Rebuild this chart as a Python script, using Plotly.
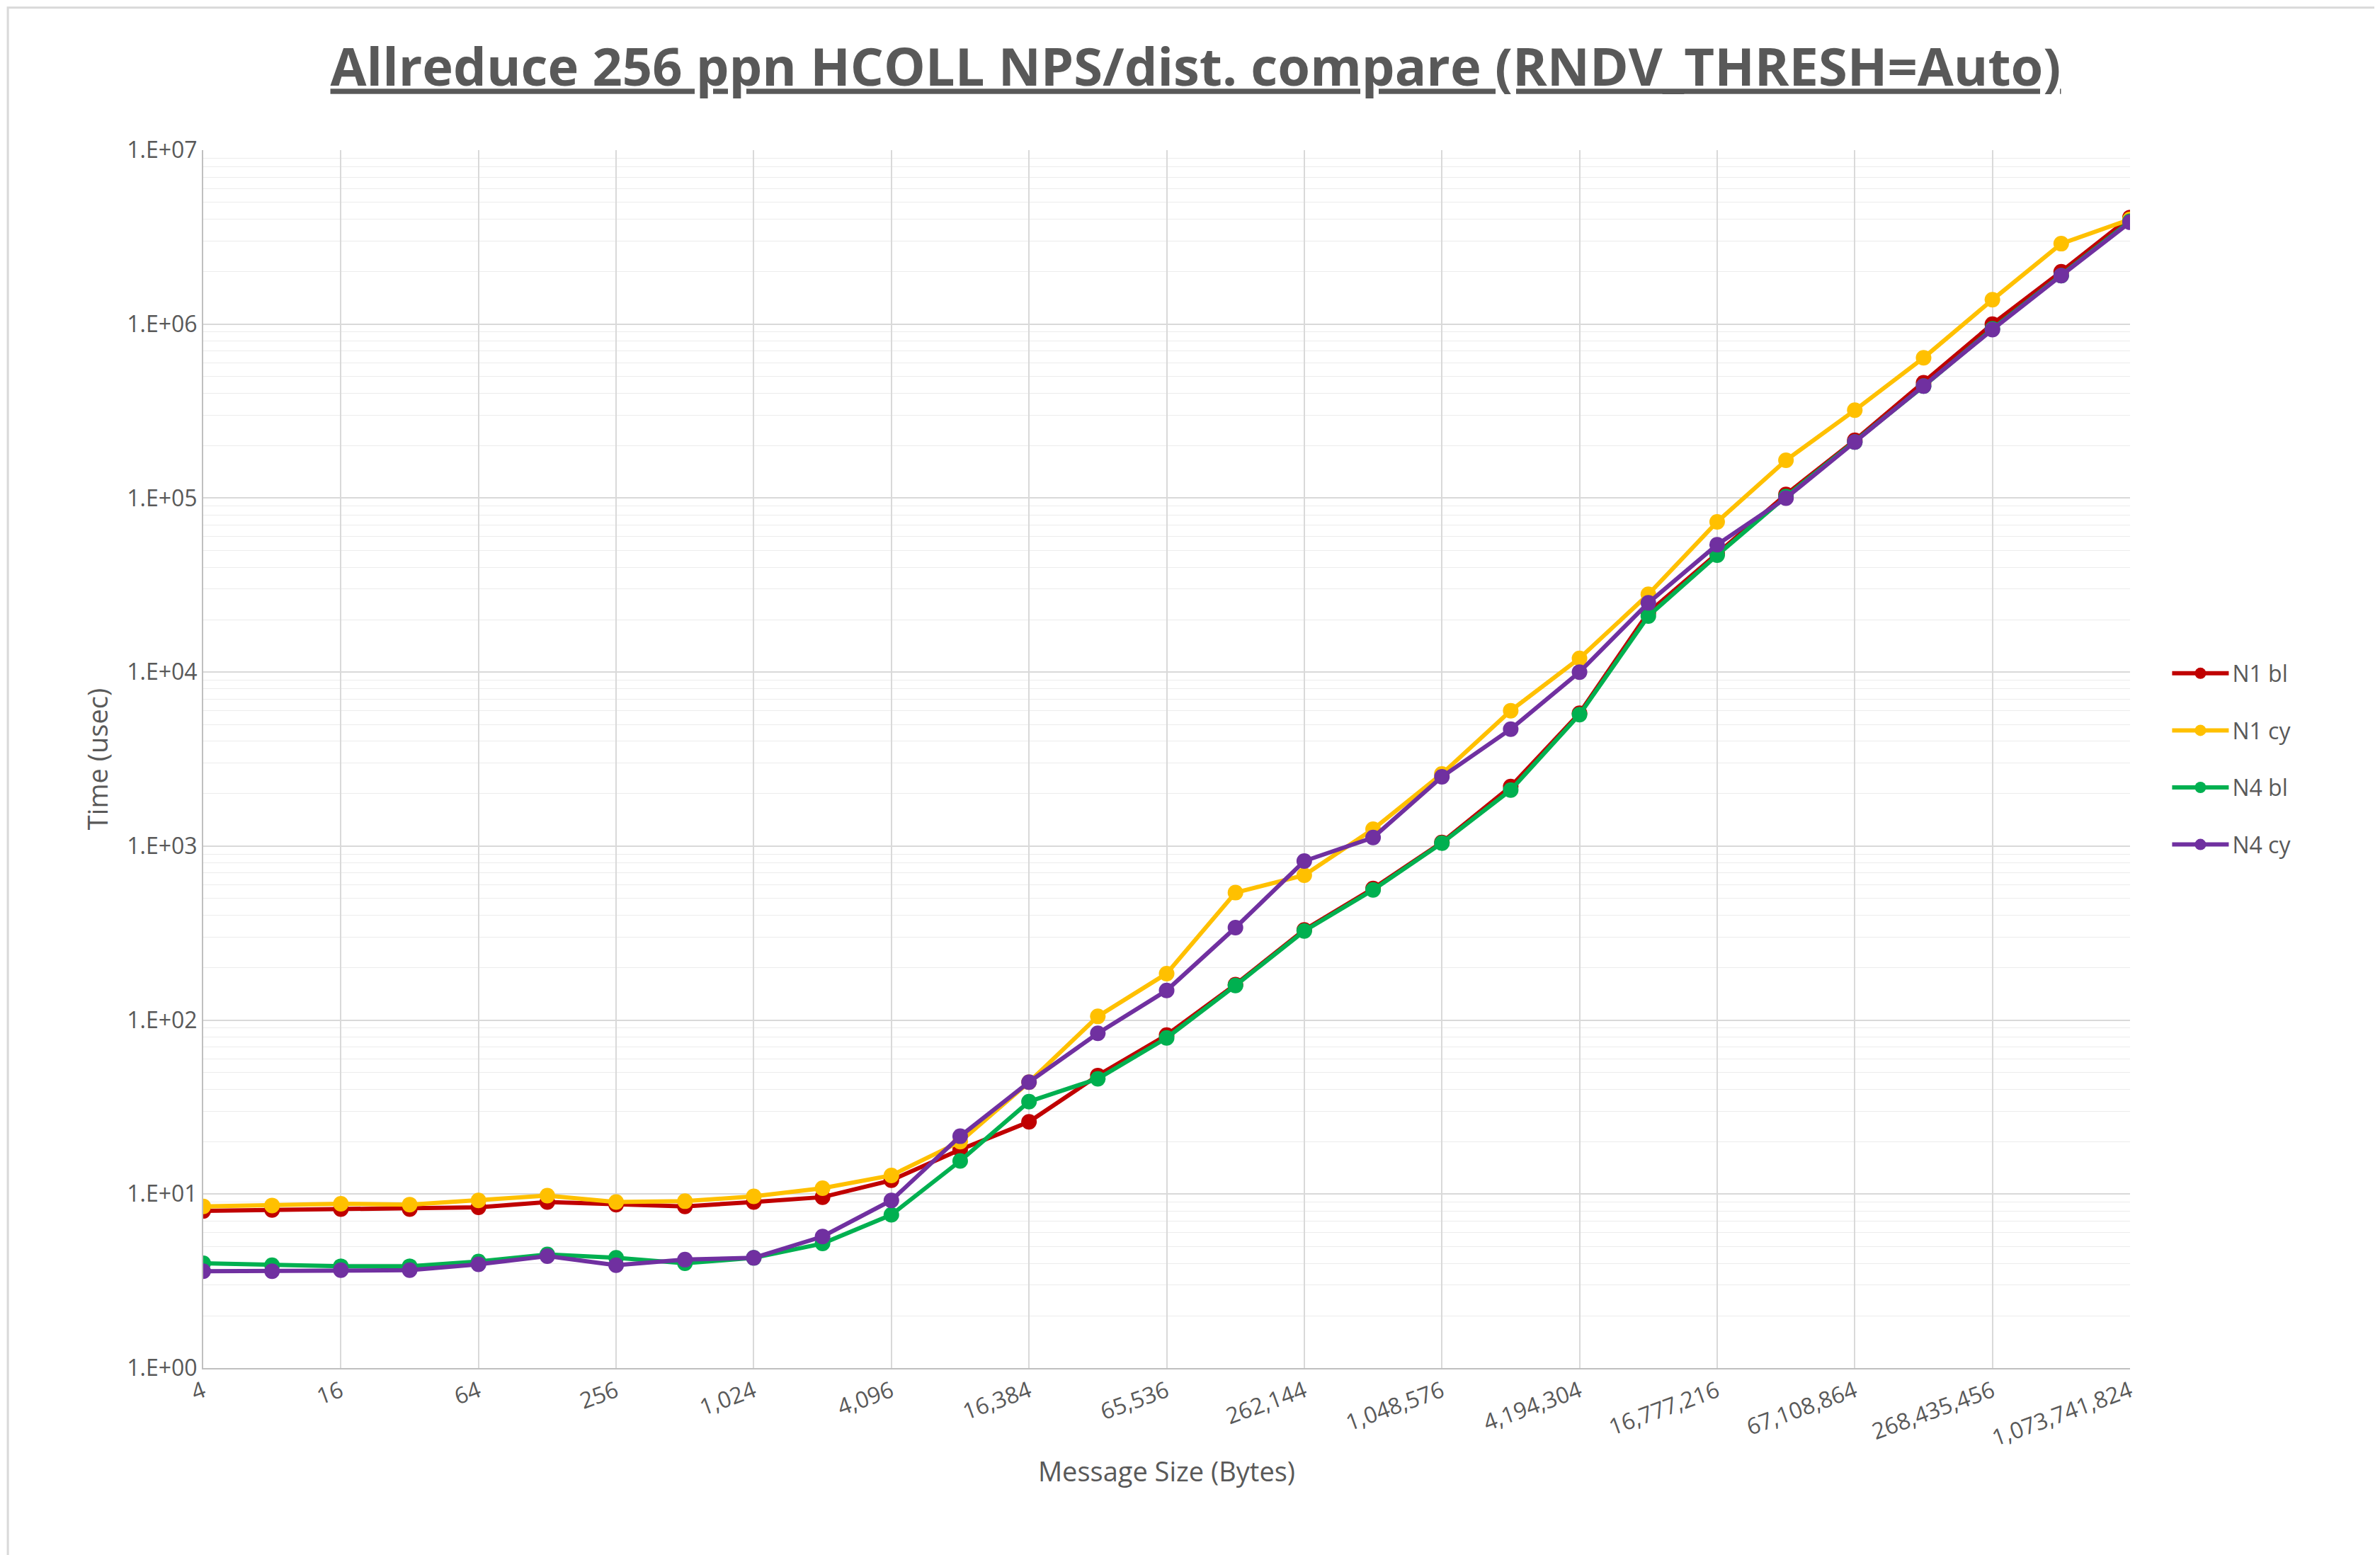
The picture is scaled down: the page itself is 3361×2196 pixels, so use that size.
import plotly.graph_objects as go

sizes = [2**k for k in range(2, 31)]
n1_bl = [8, 8.1, 8.2, 8.2, 8.4, 9, 8.7, 8.5, 9, 9.6, 12, 18, 26, 48, 82, 160, 330, 570, 1050, 2200, 5800, 22000, 48000, 105000, 215000, 460000, 1000000, 2000000, 4100000]
n1_cy = [8.5, 8.6, 8.8, 8.7, 9.2, 9.8, 9, 9.1, 9.7, 10.8, 12.8, 20, 44, 105, 185, 540, 680, 1250, 2600, 6000, 12000, 28000, 73000, 165000, 320000, 640000, 1380000, 2900000, 4000000]
n4_bl = [4, 3.9, 3.85, 3.85, 4.1, 4.5, 4.3, 4, 4.3, 5.2, 7.6, 15.5, 34, 46, 79, 158, 325, 560, 1040, 2100, 5700, 21000, 47000, 102000, 210000, 440000, 940000, 1900000, 3900000]
n4_cy = [3.6, 3.6, 3.65, 3.65, 3.95, 4.4, 3.9, 4.2, 4.3, 5.7, 9.2, 21.5, 44, 84, 148, 340, 820, 1120, 2500, 4700, 10000, 25000, 54000, 100000, 210000, 440000, 930000, 1900000, 3850000]
series = [("N1 bl", n1_bl, "#C00000"), ("N1 cy", n1_cy, "#FFC000"),
          ("N4 bl", n4_bl, "#00B050"), ("N4 cy", n4_cy, "#7030A0")]
xtick_vals = [2**k for k in range(2, 31, 2)]
xtick_text = [f"{v:,}" for v in xtick_vals]
ytick_vals = [10**k for k in range(0, 8)]
ytick_text = [f"1.E+{k:02d}" for k in range(0, 8)]

fig = go.Figure()
for name, ys, c in series:
    fig.add_trace(go.Scatter(x=sizes, y=ys, name=name, legendgroup=name, mode="lines+markers",
                             line=dict(color=c, width=6), marker=dict(color=c, size=22)))

font = "Open Sans"
fig.update_layout(
    width=3361, height=2196, paper_bgcolor="white", plot_bgcolor="white",
    font=dict(family=font, color="#595959", size=32),
    title=dict(text="<b><u>Allreduce 256 ppn HCOLL NPS/dist. compare (RNDV_THRESH=Auto)</u></b>",
               x=0.5, xanchor="center", y=0.972, font=dict(size=74, color="#595959")),
    margin=dict(l=279, r=361, t=204, b=272),
    legend=dict(x=1.02, y=0.5, yanchor="middle", font=dict(size=32), tracegroupgap=36,
                itemwidth=80),
    xaxis=dict(type="log", range=[0.60206, 9.0309], tickvals=xtick_vals, ticktext=xtick_text,
               tickangle=-20, showgrid=True, gridcolor="#d9d9d9", gridwidth=2,
               showline=True, linecolor="#bfbfbf", linewidth=2, mirror=False,
               title=dict(text="Message Size (Bytes)", font=dict(size=38)), zeroline=False),
    yaxis=dict(type="log", range=[0, 7], tickvals=ytick_vals, ticktext=ytick_text,
               showgrid=True, gridcolor="#d9d9d9", gridwidth=2,
               minor=dict(dtick="D1", showgrid=True, gridcolor="#ececec", gridwidth=1),
               showline=True, linecolor="#bfbfbf", linewidth=2,
               title=dict(text="Time (usec)", font=dict(size=38)), zeroline=False),
)
fig.add_shape(type="rect", xref="paper", yref="paper", x0=-0.1014, y0=-0.156, x1=1.1316, y1=1.117,
              line=dict(color="#d9d9d9", width=3))
fig.write_html("out.html")
